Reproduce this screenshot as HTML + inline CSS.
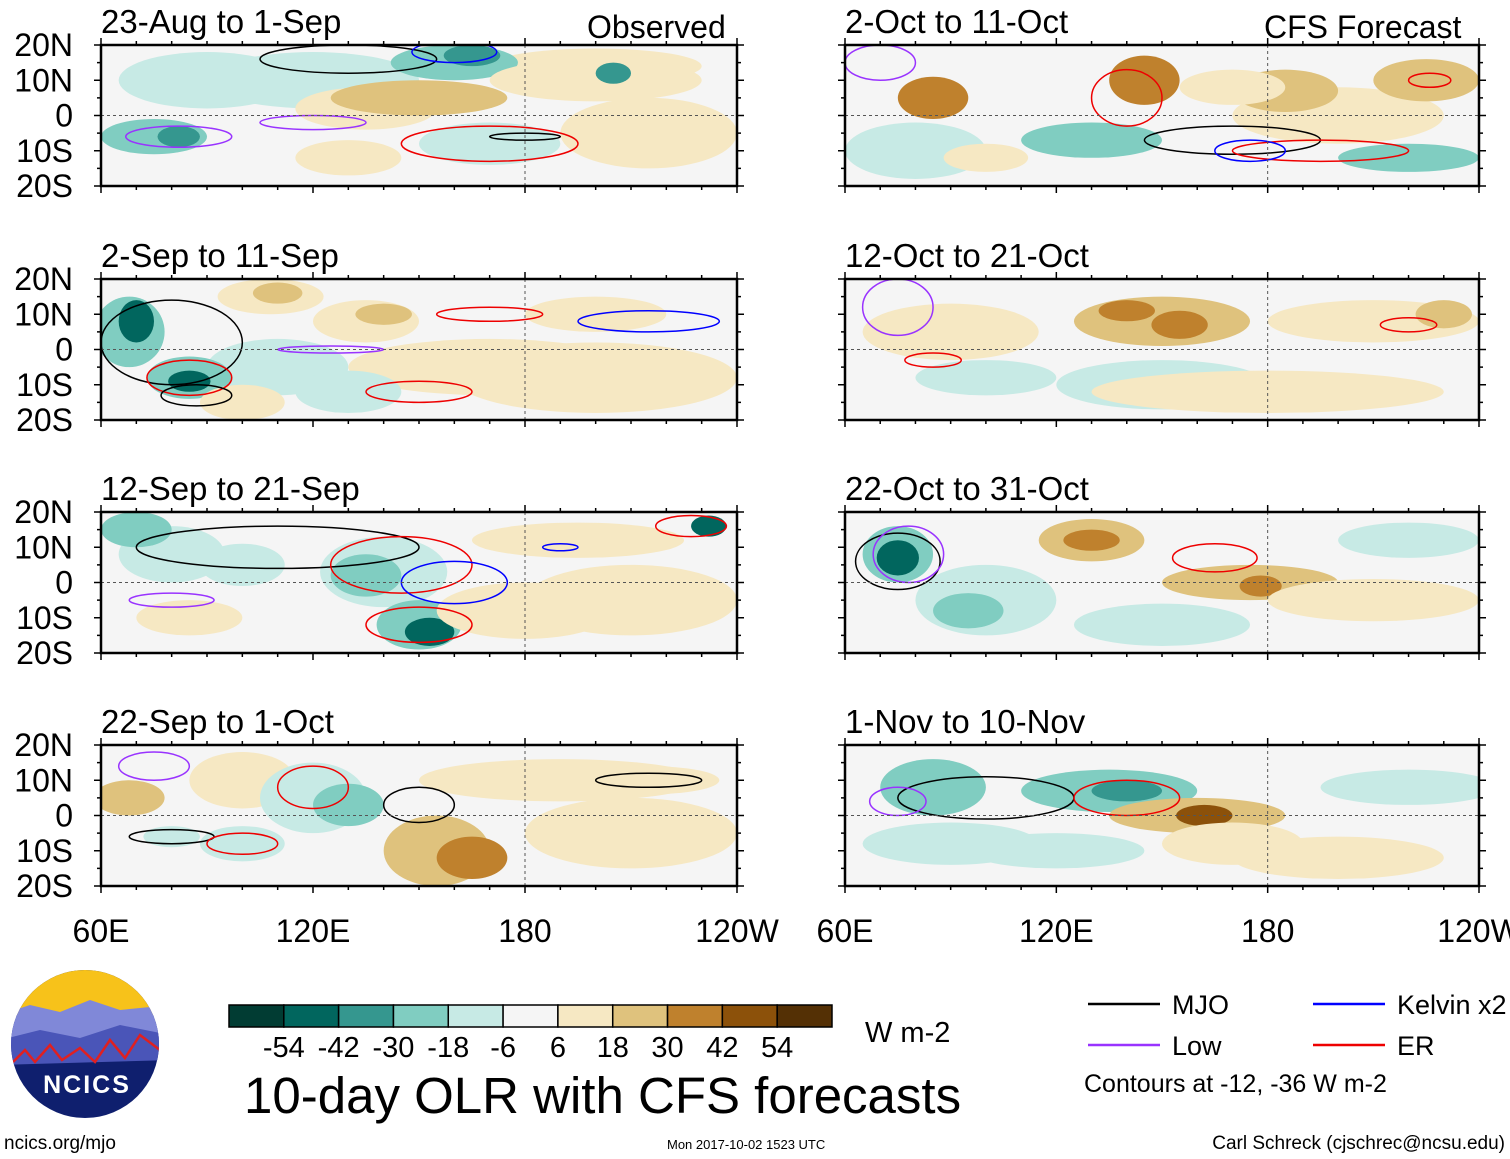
<!DOCTYPE html>
<html><head><meta charset="utf-8">
<style>
body{margin:0;background:#fff;font-family:"Liberation Sans",sans-serif;}
svg{display:block}
</style></head>
<body>
<svg id="chart" width="1510" height="1159" xmlns="http://www.w3.org/2000/svg" font-family="Liberation Sans, sans-serif"></svg>
<script>
// ---- data ----
const levelLabels=["-54","-42","-30","-18","-6","6","18","30","42","54"];
const levelColors=["#013c33","#01665e","#35978f","#80cdc1","#c7eae5","#f5f5f5","#f6e8c3","#dfc27d","#bf812d","#8c510a","#543005"];
const panelTitles=["23-Aug to 1-Sep","2-Sep to 11-Sep","12-Sep to 21-Sep","22-Sep to 1-Oct","2-Oct to 11-Oct","12-Oct to 21-Oct","22-Oct to 31-Oct","1-Nov to 10-Nov"];
const latTicks=["20N","10N","0","10S","20S"];
const latVals=[20,10,0,-10,-20];
const lonTicks=["60E","120E","180","120W"];
const lonVals=[60,120,180,240];
// blobs per panel: [lon, lat, rxDeg, ryDeg, levelIndex]
const blobs=[
 [[90,10,25,8,4],[215,-5,25,10,6],[200,14,30,5,6],[120,10,30,8,4],[160,15,18,5,3],[165,17,8,3,2],[135,2,20,6,6],[150,5,25,5,7],[75,-6,15,5,3],[82,-6,6,3,2],[200,10,30,6,6],[205,12,5,3,2],[170,-8,20,6,4],[130,-12,15,5,6]],
 [[200,-8,40,10,6],[110,-5,20,8,4],[68,5,10,10,3],[70,8,5,6,1],[85,-8,12,6,3],[85,-9,6,3,1],[108,15,15,5,6],[110,16,7,3,7],[135,8,15,6,6],[140,10,8,3,7],[170,-5,40,8,6],[200,10,20,5,6],[130,-12,15,6,4],[100,-15,12,5,6]],
 [[210,-5,30,10,6],[80,8,15,8,4],[70,15,10,5,3],[140,3,18,10,4],[135,2,10,6,3],[150,-12,12,7,3],[153,-14,7,4,1],[85,-10,15,5,6],[180,-8,25,8,6],[195,12,30,5,6],[232,16,5,3,1],[100,5,12,6,4]],
 [[210,-5,30,10,6],[100,10,15,8,6],[68,5,10,5,7],[120,5,15,10,4],[130,3,10,6,3],[155,-10,15,10,7],[165,-12,10,6,8],[190,10,40,6,6],[215,10,20,4,6],[100,-8,12,5,4],[80,-6,8,3,4]],
 [[80,-10,20,8,4],[200,0,30,8,6],[85,5,10,6,8],[145,10,10,7,8],[185,7,15,6,7],[225,10,15,6,7],[130,-7,20,5,3],[220,-12,20,4,3],[100,-12,12,4,6],[170,8,15,5,6]],
 [[90,5,25,8,6],[150,-10,30,7,4],[150,8,25,7,7],[155,7,8,4,8],[140,11,8,3,8],[210,8,30,6,6],[100,-8,20,5,4],[230,10,8,4,7],[180,-12,50,6,6]],
 [[100,-5,20,10,4],[150,-12,25,6,4],[75,8,10,8,3],[75,7,6,5,1],[95,-8,10,5,3],[130,12,15,6,7],[130,12,8,3,8],[175,0,25,5,7],[178,-1,6,3,8],[210,-5,30,6,6],[220,12,20,5,4]],
 [[90,-8,25,6,4],[200,-12,30,6,6],[85,8,15,8,3],[135,7,25,6,3],[140,7,10,3,2],[160,0,25,5,7],[162,0,8,3,9],[170,-8,20,6,6],[220,8,25,5,4],[120,-10,25,5,4]]
];
// contours per panel: [lon, lat, rxDeg, ryDeg, color]
const contours=[
 [[130,16,25,4,"#000"],[160,18,12,3,"#00f"],[120,-2,15,2,"#9933ff"],[82,-6,15,3,"#9933ff"],[170,-8,25,5,"#e00"],[180,-6,10,1,"#000"]],
 [[80,2,20,12,"#000"],[85,-8,12,5,"#e00"],[125,0,15,1,"#9933ff"],[170,10,15,2,"#e00"],[215,8,20,3,"#00f"],[150,-12,15,3,"#e00"],[87,-13,10,3,"#000"]],
 [[110,10,40,6,"#000"],[145,5,20,8,"#e00"],[160,0,15,6,"#00f"],[150,-12,15,5,"#e00"],[80,-5,12,2,"#9933ff"],[227,16,10,3,"#e00"],[190,10,5,1,"#00f"]],
 [[120,8,10,6,"#e00"],[150,3,10,5,"#000"],[80,-6,12,2,"#000"],[100,-8,10,3,"#e00"],[215,10,15,2,"#000"],[75,14,10,4,"#9933ff"]],
 [[140,5,10,8,"#e00"],[170,-7,25,4,"#000"],[195,-10,25,3,"#e00"],[175,-10,10,3,"#00f"],[70,15,10,5,"#9933ff"],[226,10,6,2,"#e00"]],
 [[75,12,10,8,"#9933ff"],[85,-3,8,2,"#e00"],[220,7,8,2,"#e00"]],
 [[75,6,12,8,"#000"],[78,8,10,8,"#9933ff"],[165,7,12,4,"#e00"]],
 [[100,5,25,6,"#000"],[140,5,15,5,"#e00"],[75,4,8,4,"#9933ff"]]
];
// ---- layout ----
const NS="http://www.w3.org/2000/svg";
const svg=document.getElementById('chart');
function el(t,a,p){const e=document.createElementNS(NS,t);for(const k in a)e.setAttribute(k,a[k]);(p||svg).appendChild(e);return e;}
const cols=[{x0:101,x1:737},{x0:845,x1:1479}];
const rows=[45,279,512,745];const ph=141;
let defsEl=el('defs',{});
for(let p=0;p<8;p++){
 const c=cols[p<4?0:1], y0=rows[p%4];
 const xs=lon=>c.x0+(lon-60)/180*(c.x1-c.x0);
 const ys=lat=>y0+(20-lat)/40*ph;
 const g=el('g',{});
 
 
 const cp=el('clipPath',{id:'cp'+p},defsEl);
 el('rect',{x:c.x0,y:y0,width:c.x1-c.x0,height:ph},cp);
 const bg=el('rect',{x:c.x0,y:y0,width:c.x1-c.x0,height:ph,fill:"#f5f5f5"},g);
 
 
 const fg=el('g',{'clip-path':'url(#cp'+p+')'},g);
 blobs[p].forEach(b=>{
  const e=el('ellipse',{cx:xs(b[0]),cy:ys(b[1]),rx:b[2]/180*(c.x1-c.x0),ry:b[3]/40*ph,fill:levelColors[b[4]]},fg);
  
  
 });
 contours[p].forEach(b=>{
  const e=el('ellipse',{cx:xs(b[0]),cy:ys(b[1]),rx:b[2]/180*(c.x1-c.x0),ry:b[3]/40*ph,fill:"none",stroke:b[4],'stroke-width':1.5},fg);
  
  
 });
 el('line',{x1:c.x0,x2:c.x1,y1:ys(0),y2:ys(0),stroke:"#555","stroke-dasharray":"3,3","stroke-width":1},g);
 el('line',{x1:xs(180),x2:xs(180),y1:y0,y2:y0+ph,stroke:"#555","stroke-dasharray":"3,3","stroke-width":1},g);
 const fr=el('rect',{x:c.x0,y:y0,width:c.x1-c.x0,height:ph,fill:"none",stroke:"#000","stroke-width":2.5},g);
 
 
 for(let lon=60;lon<=240;lon+=10){const x=xs(lon);const L=lon%60==0?7:4;
  el('line',{x1:x,x2:x,y1:y0,y2:y0-L,stroke:"#000","stroke-width":1.5},g);
  el('line',{x1:x,x2:x,y1:y0+ph,y2:y0+ph+L,stroke:"#000","stroke-width":1.5},g);}
 for(let lat=-20;lat<=20;lat+=5){const y=ys(lat);const L=lat%10==0?7:4;
  el('line',{x1:c.x0,x2:c.x0-L,y1:y,y2:y,stroke:"#000","stroke-width":1.5},g);
  el('line',{x1:c.x1,x2:c.x1+L,y1:y,y2:y,stroke:"#000","stroke-width":1.5},g);}
 const t=el('text',{x:c.x0,y:y0-12,'font-size':33,fill:"#000"},g);t.textContent=panelTitles[p];
 
 
 if(p<4){latTicks.forEach((s,i)=>{const tt=el('text',{x:73,y:ys(latVals[i])+11,'font-size':32,'text-anchor':'end'},g);tt.textContent=s;
  
  });}
 if(p%4==3){lonTicks.forEach((s,i)=>{const tt=el('text',{x:xs(lonVals[i]),y:942,'font-size':32,'text-anchor':'middle'},g);tt.textContent=s;
  
  });}
}
function txt(x,y,s,fs,name,anchor){const t=el('text',{x:x,y:y,'font-size':fs,'text-anchor':anchor||'start'});t.textContent=s;
 
 return t;}
txt(587,38,"Observed",32,"observed-label");
txt(1264,38,"CFS Forecast",32,"cfs-forecast-label");
// colorbar
const cbx=229,cbw=603,cby=1005,cbh=22,bw=cbw/levelColors.length;
levelColors.forEach((col,i)=>{const r=el('rect',{x:cbx+i*bw,y:cby,width:bw,height:cbh,fill:col,stroke:"#000","stroke-width":1.5});
 
 });
levelLabels.forEach((s,i)=>{txt(cbx+(i+1)*bw,1057,s,29,"colorbar-label","middle");});
txt(865,1042,"W m-2",29,"units-label");
txt(244,1113,"10-day OLR with CFS forecasts",51,"chart-title");
// legend
const leg=[["MJO","#000",1088,1004],["Kelvin x2","#00f",1313,1004],["Low","#9933ff",1088,1045],["ER","#e00",1313,1045]];
leg.forEach(l=>{const ln=el('line',{x1:l[2],x2:l[2]+72,y1:l[3],y2:l[3],stroke:l[1],'stroke-width':2.5});
 
 
 txt(l[2]+84,l[3]+10,l[0],27,"legend-entry");});
txt(1084,1092,"Contours at -12, -36 W m-2",25,"contour-note");
txt(4,1149,"ncics.org/mjo",19,"site-url");
txt(667,1149,"Mon 2017-10-02 1523 UTC",13,"timestamp");
txt(1505,1149,"Carl Schreck (cjschrec@ncsu.edu)",19,"author","end");
// logo
const lg=el('g',{});
const lc=el('clipPath',{id:'logoclip'},defsEl);el('circle',{cx:85,cy:1044,r:74},lc);
const lgi=el('g',{'clip-path':'url(#logoclip)'},lg);
el('rect',{x:0,y:960,width:170,height:170,fill:"#0f1f6e"},lgi);
el('rect',{x:0,y:960,width:170,height:55,fill:"#f7c21a"},lgi);
el('path',{d:"M0 1015 L30 1005 L60 1012 L90 1000 L120 1010 L170 1005 L170 1040 L0 1045Z",fill:"#8088d8"},lgi);
el('path',{d:"M0 1040 L40 1030 L80 1038 L120 1025 L170 1035 L170 1060 L0 1065Z",fill:"#4a55b8"},lgi);
el('path',{d:"M10 1065 L25 1050 L35 1062 L50 1045 L62 1060 L80 1048 L95 1062 L110 1040 L125 1058 L140 1035 L160 1050",fill:"none",stroke:"#e02020",'stroke-width':2.5},lgi);
const lt=el('text',{x:87,y:1093,'font-size':25,'font-weight':'bold',fill:"#fff",'text-anchor':'middle','letter-spacing':2},lg);lt.textContent="NCICS";
</script>
</body></html>
